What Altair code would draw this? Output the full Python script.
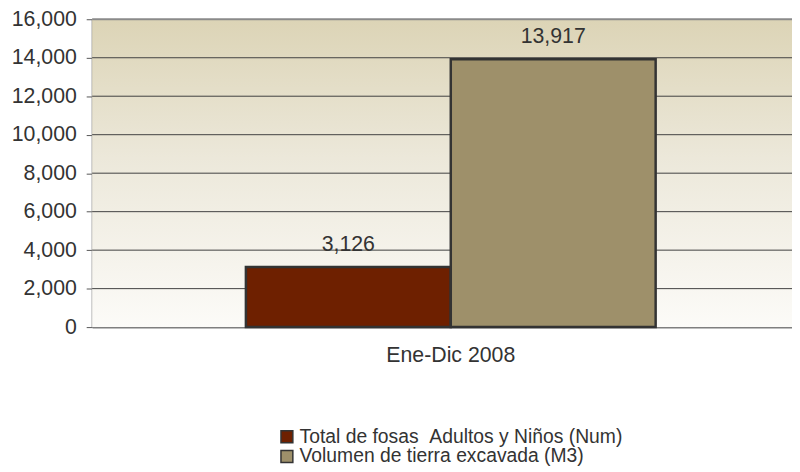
import altair as alt
import pandas as pd

# ---- data ----
categories = ["Ene-Dic 2008", "Ene-Dic 2008"]
series = ["Total de fosas \u00a0Adultos y Niños (Num)", "Volumen de tierra excavada (M3)"]
values = [3126, 13917]
colors = ["#6e2000", "#9e906a"]
y_ticks = [0, 2000, 4000, 6000, 8000, 10000, 12000, 14000, 16000]

df = pd.DataFrame({"periodo": categories, "serie": series, "valor": values})
grid_df = pd.DataFrame({"tick": y_ticks[1:-1]})

W, H = 707, 311
FONT = "Liberation Sans"
TXT = "#333333"
FS = 21.5

y_scale = alt.Scale(domain=[0, 16000], nice=False)
y_axis = alt.Axis(
    title=None, values=y_ticks, format=",.0f", grid=False,
    labelOverlap=False,
    labelFontSize=FS, labelColor=TXT, labelFont=FONT, labelPadding=10,
    tickSize=6, tickColor="#555555", domainColor="#7f7f7f", domainWidth=2,
)
x_enc = alt.X(
    "periodo:N",
    scale=alt.Scale(paddingInner=0, paddingOuter=0.354, align=0.53),
    axis=alt.Axis(title=None, labelAngle=0, ticks=False, domainColor="#7f7f7f",
                  domainWidth=2, labelPadding=18, labelFontSize=FS,
                  labelColor=TXT, labelFont=FONT),
)
xo_enc = alt.XOffset("serie:N", sort=series,
                     scale=alt.Scale(paddingInner=0, paddingOuter=0))

gradient = alt.Gradient(
    gradient="linear", x1=0, x2=0, y1=0, y2=1,
    stops=[alt.GradientStop(color="#dcd4b6", offset=0),
           alt.GradientStop(color="#ece8da", offset=0.45),
           alt.GradientStop(color="#fcfbf8", offset=1)],
)

bg = alt.Chart(alt.Data(values=[{}])).mark_rect(fill=gradient).encode(
    x=alt.value(0), x2=alt.value(W), y=alt.value(0), y2=alt.value(H)
)

grid = alt.Chart(grid_df).mark_rule(color="#404040", strokeWidth=1).encode(
    y=alt.Y("tick:Q", scale=y_scale, axis=y_axis)
)

bars = alt.Chart(df).mark_bar(stroke="#333333", strokeWidth=2.5).encode(
    x=x_enc,
    xOffset=xo_enc,
    y=alt.Y("valor:Q", scale=y_scale, axis=y_axis),
    color=alt.Color(
        "serie:N",
        scale=alt.Scale(domain=series, range=colors),
        legend=alt.Legend(
            title=None, orient="none", legendX=187, legendY=412,
            symbolType="square", symbolSize=144, symbolStrokeColor="#333333",
            symbolStrokeWidth=1.5, labelFontSize=19.5, labelFont=FONT,
            labelColor=TXT, labelOffset=3, labelLimit=0, rowPadding=-5,
            padding=0,
        ),
    ),
)

labels = alt.Chart(df).mark_text(
    dy=-16, baseline="alphabetic", fontSize=FS, font=FONT, color=TXT
).encode(
    x=x_enc,
    xOffset=xo_enc,
    y=alt.Y("valor:Q", scale=y_scale, axis=y_axis),
    text=alt.Text("valor:Q", format=",.0f"),
)

top = alt.Chart(alt.Data(values=[{}])).mark_rule(color="#8a8a8a", strokeWidth=2).encode(
    y=alt.YDatum(y_ticks[-1], type="quantitative", scale=y_scale, axis=y_axis)
)

chart = alt.layer(bg, grid, bars, labels, top).properties(
    width=W, height=H,
    autosize=alt.AutoSizeParams(type="none"),
    padding={"left": 85, "top": 9, "right": 0, "bottom": 144},
).configure(font=FONT).configure_view(stroke=None)

chart.save("out.html", embed_options={"renderer": "svg", "actions": False})
